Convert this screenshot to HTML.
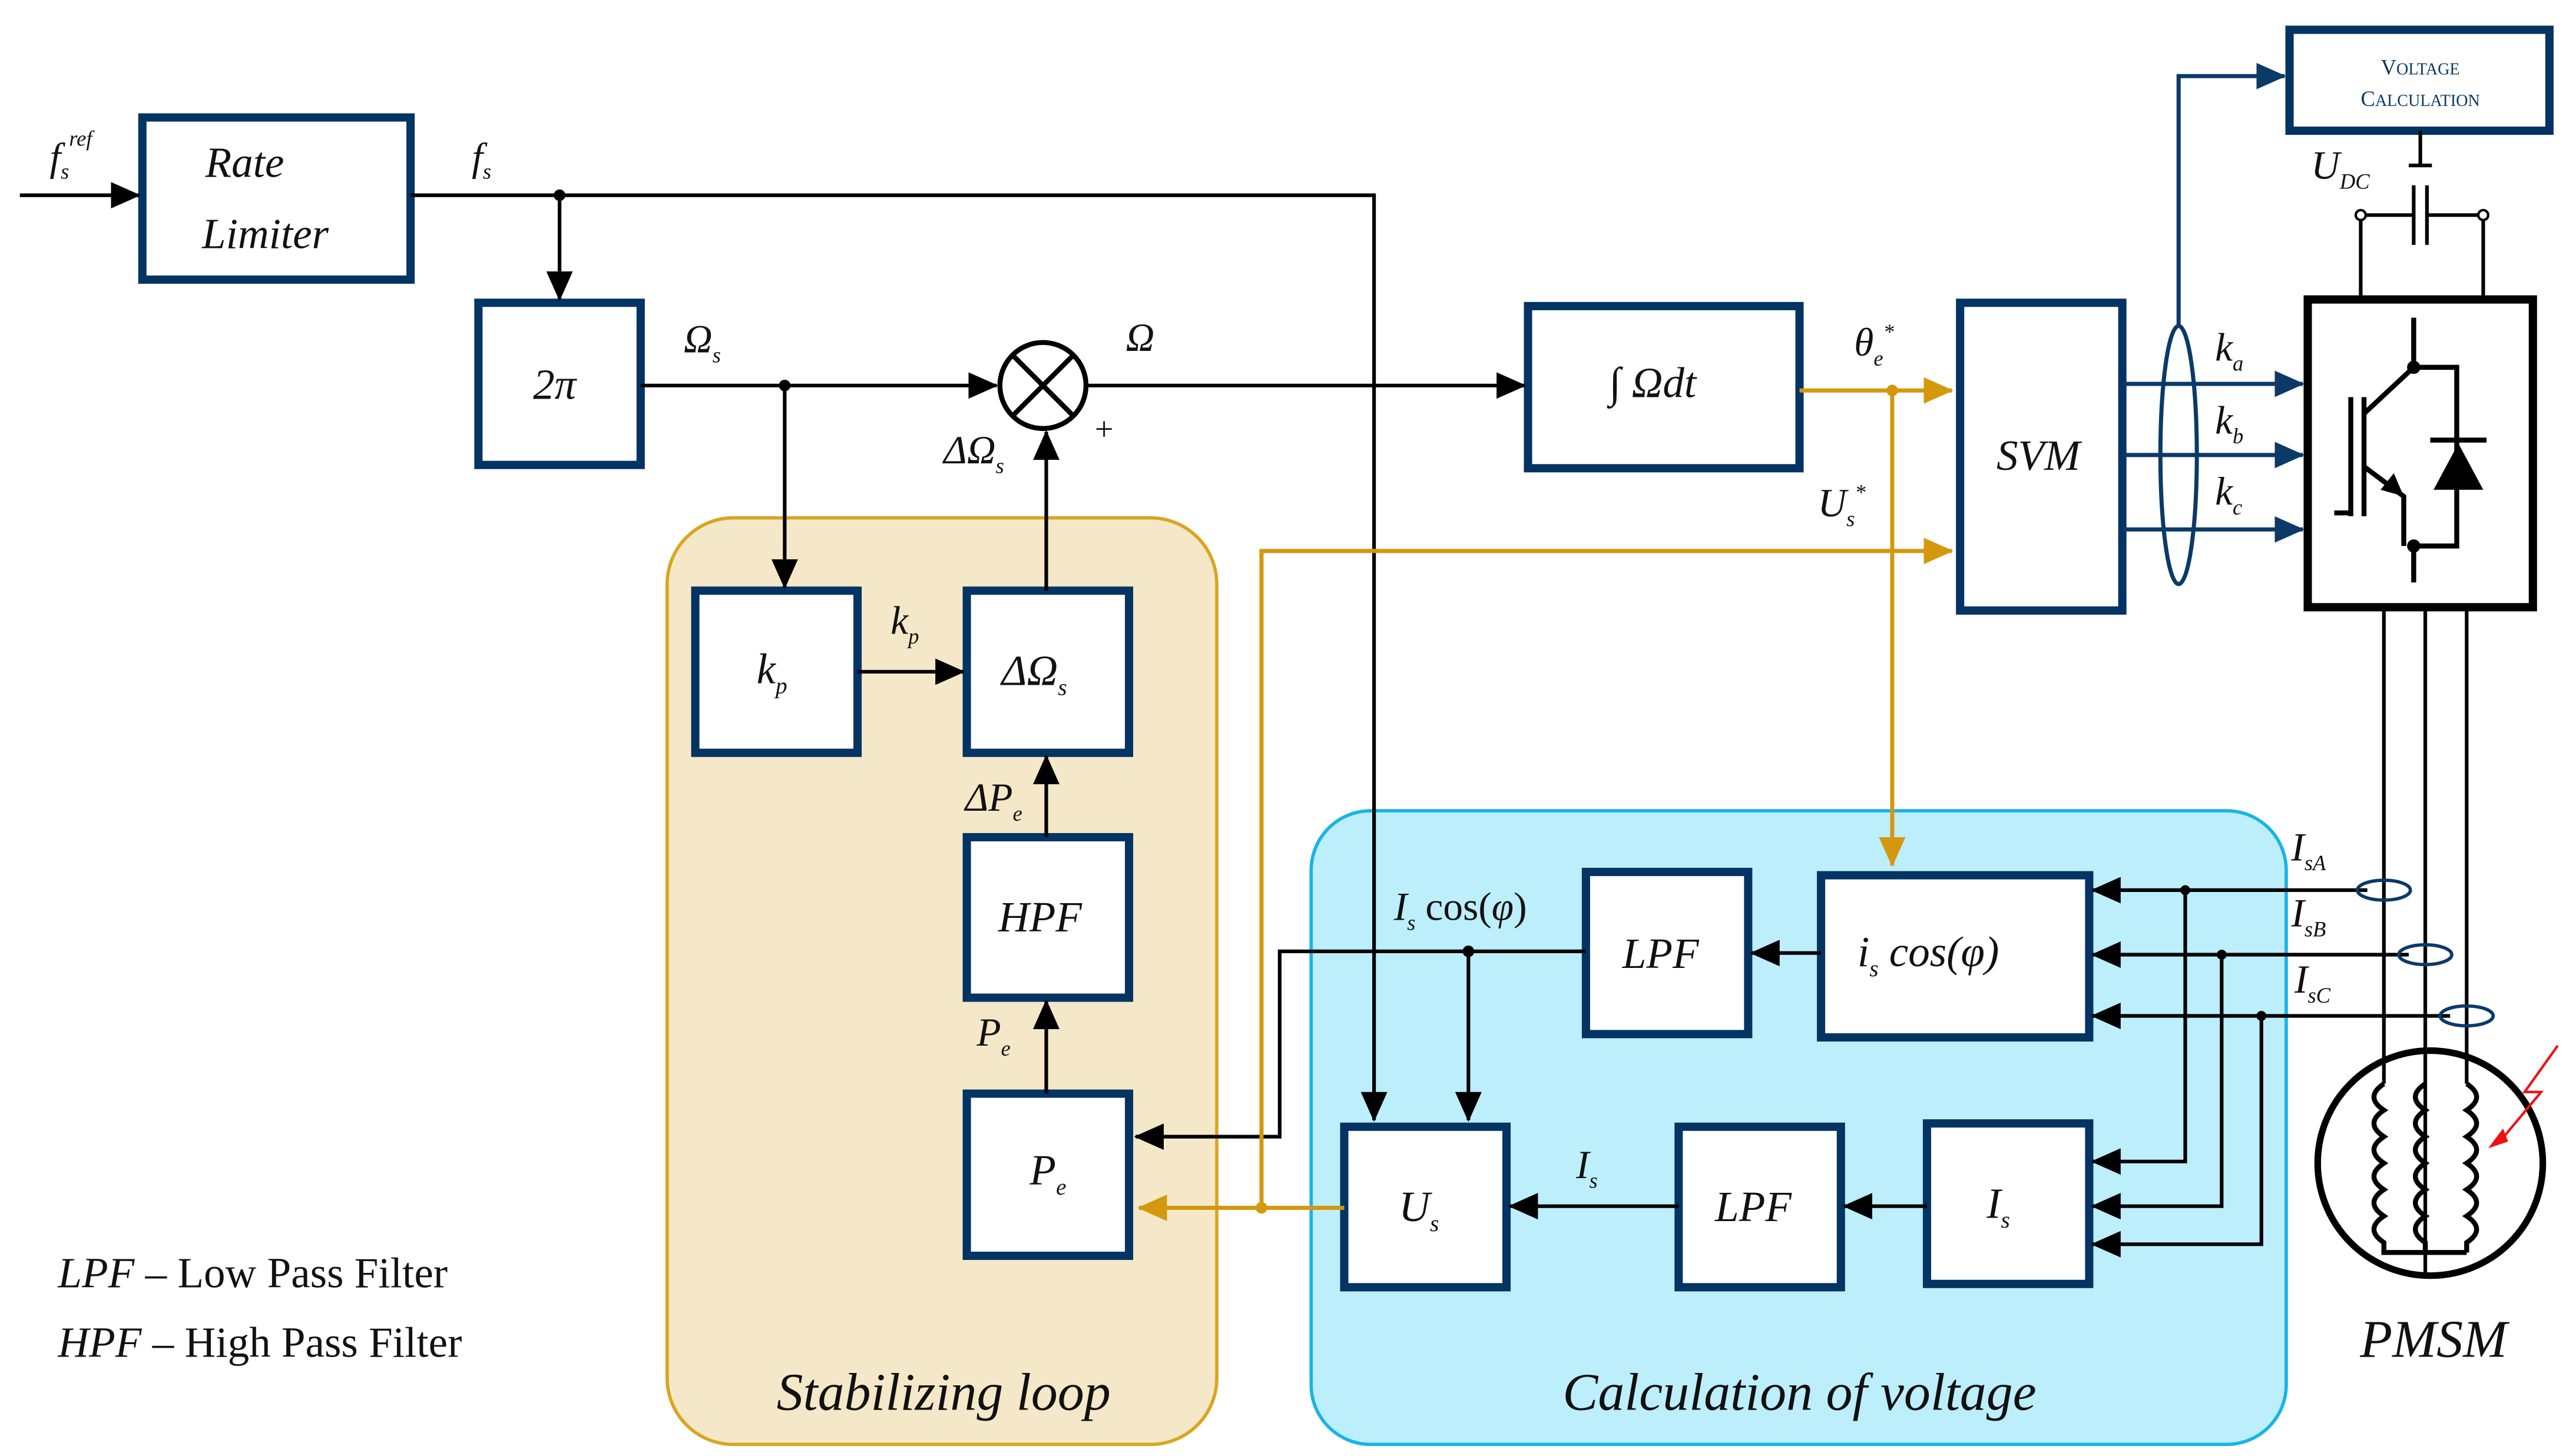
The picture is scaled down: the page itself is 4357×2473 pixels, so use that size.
<!DOCTYPE html>
<html><head><meta charset="utf-8"><style>
html,body{margin:0;padding:0;background:#fff;}
svg{display:block;}
text{font-family:"Liberation Serif",serif;font-style:italic;fill:#111;}
</style></head><body>
<svg width="4357" height="2473" viewBox="0 0 1550 880" preserveAspectRatio="none" xmlns="http://www.w3.org/2000/svg">
<defs>
<marker id="ab" markerWidth="18" markerHeight="16" refX="17" refY="8" orient="auto" markerUnits="userSpaceOnUse"><path d="M0,0 L18,8 L0,16 Z" fill="#000"/></marker>
<marker id="ao" markerWidth="18" markerHeight="16" refX="17" refY="8" orient="auto" markerUnits="userSpaceOnUse"><path d="M0,0 L18,8 L0,16 Z" fill="#d4980f"/></marker>
<marker id="an" markerWidth="18" markerHeight="16" refX="17" refY="8" orient="auto" markerUnits="userSpaceOnUse"><path d="M0,0 L18,8 L0,16 Z" fill="#0b3a66"/></marker>
</defs>

<rect x="403" y="313" width="332" height="560" rx="40" fill="#f5e8c8" stroke="#d9a520" stroke-width="2"/>
<rect x="792" y="490" width="589" height="383" rx="36" fill="#bdeefb" stroke="#18b4e6" stroke-width="2"/>

<g fill="#fff" stroke="#033463" stroke-width="5">
<rect x="86" y="71" width="162" height="98"/>
<rect x="289" y="183" width="98" height="98"/>
<rect x="923" y="185" width="164" height="98"/>
<rect x="1184" y="183" width="98" height="186"/>
<rect x="1383" y="18" width="157" height="61"/>
<rect x="420" y="357" width="98" height="98"/>
<rect x="584" y="357" width="98" height="98"/>
<rect x="584" y="506" width="98" height="97"/>
<rect x="584" y="661" width="98" height="98"/>
<rect x="958" y="527" width="98" height="98"/>
<rect x="1100" y="529" width="162" height="98"/>
<rect x="812" y="681" width="98" height="97"/>
<rect x="1014" y="681" width="98" height="97"/>
<rect x="1164" y="679" width="98" height="97"/>
</g>
<rect x="1394" y="181" width="136" height="186" fill="#fff" stroke="#000" stroke-width="5"/>

<g stroke="#000" stroke-width="2.2" fill="none">
<line x1="12" y1="118" x2="84" y2="118" marker-end="url(#ab)"/>
<polyline points="248,118 830,118 830,677" marker-end="url(#ab)"/>
<line x1="338" y1="118" x2="338" y2="181" marker-end="url(#ab)"/>
<line x1="387" y1="233" x2="602" y2="233" marker-end="url(#ab)"/>
<line x1="474" y1="233" x2="474" y2="355" marker-end="url(#ab)"/>
<line x1="656" y1="233" x2="921" y2="233" marker-end="url(#ab)"/>
<line x1="518" y1="406" x2="582" y2="406" marker-end="url(#ab)"/>
<line x1="632" y1="357" x2="632" y2="261" marker-end="url(#ab)"/>
<line x1="632" y1="506" x2="632" y2="457" marker-end="url(#ab)"/>
<line x1="632" y1="661" x2="632" y2="605" marker-end="url(#ab)"/>
<polyline points="958,575 773,575 773,687 686,687" marker-end="url(#ab)"/>
<line x1="887" y1="575" x2="887" y2="677" marker-end="url(#ab)"/>
<line x1="1100" y1="576" x2="1058" y2="576" marker-end="url(#ab)"/>
<line x1="1164" y1="729" x2="1114" y2="729" marker-end="url(#ab)"/>
<line x1="1014" y1="729" x2="912" y2="729" marker-end="url(#ab)"/>
<line x1="1430" y1="538" x2="1264" y2="538" marker-end="url(#ab)"/>
<line x1="1455" y1="577" x2="1264" y2="577" marker-end="url(#ab)"/>
<line x1="1480" y1="614" x2="1264" y2="614" marker-end="url(#ab)"/>
<polyline points="1320,538 1320,702 1264,702" marker-end="url(#ab)"/>
<polyline points="1342,577 1342,729 1264,729" marker-end="url(#ab)"/>
<polyline points="1366,614 1366,752 1264,752" marker-end="url(#ab)"/>
<line x1="1440" y1="367" x2="1440" y2="655"/>
<line x1="1465" y1="367" x2="1465" y2="770"/>
<line x1="1490" y1="367" x2="1490" y2="655"/>
<line x1="1462" y1="79" x2="1462" y2="100"/>
<line x1="1455" y1="100" x2="1469" y2="100"/>
<line x1="1426" y1="130" x2="1458" y2="130"/>
<line x1="1466" y1="130" x2="1500" y2="130"/>
<line x1="1458" y1="112" x2="1458" y2="148"/>
<line x1="1466" y1="112" x2="1466" y2="148"/>
<line x1="1426" y1="130" x2="1426" y2="181"/>
<line x1="1500" y1="130" x2="1500" y2="181"/>
</g>
<circle cx="1426" cy="130" r="3" fill="#fff" stroke="#000" stroke-width="1.5"/>
<circle cx="1500" cy="130" r="3" fill="#fff" stroke="#000" stroke-width="1.5"/>
<g fill="#000">
<circle cx="338" cy="118" r="3.5"/><circle cx="474" cy="233" r="3.5"/>
<circle cx="887" cy="575" r="3.5"/><circle cx="1320" cy="538" r="3"/>
<circle cx="1342" cy="577" r="3"/><circle cx="1366" cy="614" r="3"/>
</g>
<circle cx="630" cy="233" r="26" fill="#fff" stroke="#000" stroke-width="3"/>
<line x1="612" y1="215" x2="648" y2="251" stroke="#000" stroke-width="3"/>
<line x1="648" y1="215" x2="612" y2="251" stroke="#000" stroke-width="3"/>

<g stroke="#d4980f" stroke-width="2.5" fill="none">
<line x1="1087" y1="236" x2="1179" y2="236" marker-end="url(#ao)"/>
<line x1="1143" y1="236" x2="1143" y2="523" marker-end="url(#ao)"/>
<polyline points="762,730 762,333 1179,333" marker-end="url(#ao)"/>
<line x1="812" y1="730" x2="688" y2="730" marker-end="url(#ao)"/>
</g>
<circle cx="1143" cy="236" r="3.5" fill="#d4980f"/>
<circle cx="762" cy="730" r="3.5" fill="#d4980f"/>

<g stroke="#0b3a66" stroke-width="2.5" fill="none">
<line x1="1282" y1="232" x2="1391" y2="232" marker-end="url(#an)"/>
<line x1="1282" y1="275" x2="1391" y2="275" marker-end="url(#an)"/>
<line x1="1282" y1="320" x2="1391" y2="320" marker-end="url(#an)"/>
<ellipse cx="1316" cy="275" rx="11" ry="78"/>
<polyline points="1316,197 1316,46 1380,46" marker-end="url(#an)"/>
</g>

<g stroke="#000" stroke-width="3" fill="none">
<line x1="1458" y1="192" x2="1458" y2="222"/>
<polyline points="1458,222 1484,222 1484,330 1458,330"/>
<line x1="1458" y1="330" x2="1458" y2="352"/>
<line x1="1458" y1="222" x2="1428" y2="250"/>
<line x1="1428" y1="240" x2="1428" y2="312"/>
<line x1="1420" y1="240" x2="1420" y2="312"/>
<polyline points="1410,310 1420,310"/>
<polyline points="1428,282 1452,300 1452,330"/>
<line x1="1468" y1="266" x2="1502" y2="266"/>
</g>
<path d="M1485,268 L1470,296 L1500,296 Z" fill="#000"/>
<path d="M1452,300 L1438,296 L1446,286 Z" fill="#000"/>
<circle cx="1458" cy="222" r="4" fill="#000"/><circle cx="1458" cy="330" r="4" fill="#000"/>

<g fill="none" stroke="#0b3a66" stroke-width="2">
<ellipse cx="1440" cy="538" rx="16" ry="6"/>
<ellipse cx="1465" cy="577" rx="16" ry="6"/>
<ellipse cx="1490" cy="614" rx="16" ry="6"/>
</g>
<circle cx="1468" cy="703" r="68" fill="none" stroke="#000" stroke-width="4"/>
<g fill="none" stroke="#000" stroke-width="3">
<path d="M1440,655 q-12,8 0,16 q-12,8 0,16 q-12,8 0,16 q-12,8 0,16 q-12,8 0,16 q-12,8 0,16 v6 h50"/>
<path d="M1465,655 q-12,8 0,16 q-12,8 0,16 q-12,8 0,16 q-12,8 0,16 q-12,8 0,16 q-12,8 0,16 v6"/>
<path d="M1490,655 q12,8 0,16 q12,8 0,16 q12,8 0,16 q12,8 0,16 q12,8 0,16 q12,8 0,16 v6"/>
</g>
<polyline points="1545,632 1525,660 1535,660 1510,690" fill="none" stroke="#e11" stroke-width="1.5"/>
<path d="M1503,694 L1512,682 L1515,690 Z" fill="#e11"/>

<g font-size="26">
<text x="124" y="107">Rate</text>
<text x="122" y="150">Limiter</text>
<text x="322" y="241">2π</text>
<text x="605" y="414" font-style="normal">ΔΩ<tspan font-size="14" dy="6">s</tspan></text>
<text x="457" y="413">k<tspan font-size="14" dy="6">p</tspan></text>
<text x="603" y="563">HPF</text>
<text x="622" y="716">P<tspan font-size="14" dy="6">e</tspan></text>
<text x="980" y="585">LPF</text>
<text x="1036" y="738">LPF</text>
<text x="1122" y="584" font-style="normal">i<tspan font-size="14" dy="6">s</tspan><tspan dy="-6"> cos(</tspan><tspan font-style="italic">φ</tspan>)</text>
<text x="845" y="738">U<tspan font-size="14" dy="6">s</tspan></text>
<text x="1200" y="736">I<tspan font-size="14" dy="6">s</tspan></text>
<text x="1206" y="284">SVM</text>
<text x="972" y="240" font-style="normal">∫ Ω<tspan font-style="italic">dt</tspan></text>
</g>
<g font-size="24">
<text x="30" y="103">f<tspan font-size="13" dy="5">s</tspan><tspan font-size="13" dy="-20">ref</tspan></text>
<text x="285" y="103">f<tspan font-size="13" dy="5">s</tspan></text>
<text x="413" y="213" font-style="normal">Ω<tspan font-size="13" dy="6">s</tspan></text>
<text x="680" y="212" font-style="normal">Ω</text>
<text x="660" y="266" font-style="normal" font-size="20">+</text>
<text x="570" y="280" font-style="normal">ΔΩ<tspan font-size="13" dy="6">s</tspan></text>
<text x="538" y="383">k<tspan font-size="13" dy="6">p</tspan></text>
<text x="583" y="490">ΔP<tspan font-size="13" dy="6">e</tspan></text>
<text x="590" y="632">P<tspan font-size="13" dy="6">e</tspan></text>
<text x="1120" y="215">θ<tspan font-size="13" dy="6">e</tspan><tspan font-size="13" dy="-16">*</tspan></text>
<text x="1098" y="312">U<tspan font-size="13" dy="6">s</tspan><tspan font-size="13" dy="-16">*</tspan></text>
<text x="1338" y="218">k<tspan font-size="13" dy="6">a</tspan></text>
<text x="1338" y="262">k<tspan font-size="13" dy="6">b</tspan></text>
<text x="1338" y="305">k<tspan font-size="13" dy="6">c</tspan></text>
<text x="1396" y="108">U<tspan font-size="13" dy="6">DC</tspan></text>
<text x="842" y="556">I<tspan font-size="13" dy="6">s</tspan><tspan dy="-6" font-style="normal"> cos(</tspan>φ<tspan font-style="normal">)</tspan></text>
<text x="952" y="712">I<tspan font-size="13" dy="6">s</tspan></text>
<text x="1384" y="520">I<tspan font-size="13" dy="6">sA</tspan></text>
<text x="1384" y="560">I<tspan font-size="13" dy="6">sB</tspan></text>
<text x="1386" y="600">I<tspan font-size="13" dy="6">sC</tspan></text>
</g>
<text x="1462" y="45" text-anchor="middle" font-size="13" style="fill:#0b3a66;font-style:normal">V<tspan font-size="10">OLTAGE</tspan></text>
<text x="1462" y="64" text-anchor="middle" font-size="13" style="fill:#0b3a66;font-style:normal">C<tspan font-size="10">ALCULATION</tspan></text>
<g font-size="26">
<text x="35" y="778">LPF <tspan font-style="normal">– Low Pass Filter</tspan></text>
<text x="35" y="820">HPF <tspan font-style="normal">– High Pass Filter</tspan></text>
</g>
<g font-size="32">
<text x="570" y="852" text-anchor="middle">Stabilizing loop</text>
<text x="1087" y="852" text-anchor="middle">Calculation of voltage</text>
<text x="1470" y="820" text-anchor="middle">PMSM</text>
</g>
</svg>
</body></html>
